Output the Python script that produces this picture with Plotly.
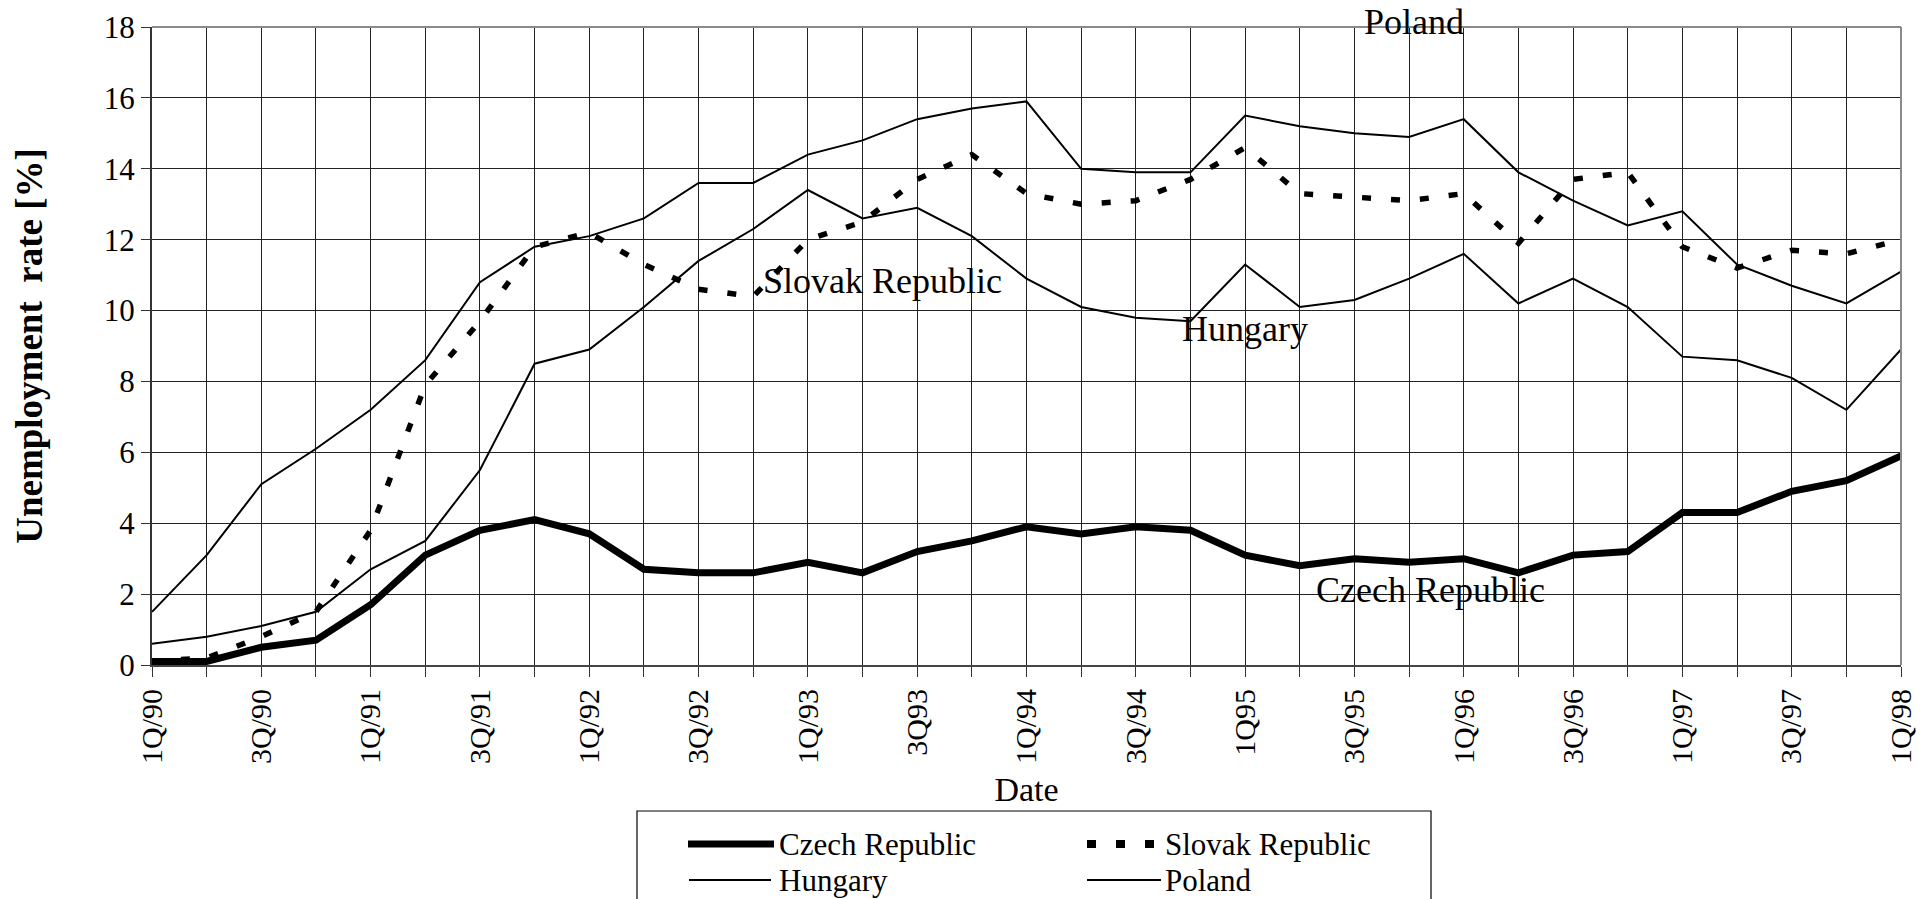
import plotly.graph_objects as go

# Quarterly unemployment rates, 1Q/90 – 1Q/98
quarters = [
    "1Q/90", "2Q/90", "3Q/90", "4Q/90",
    "1Q/91", "2Q/91", "3Q/91", "4Q/91",
    "1Q/92", "2Q/92", "3Q/92", "4Q/92",
    "1Q/93", "2Q/93", "3Q93", "4Q/93",
    "1Q/94", "2Q/94", "3Q/94", "4Q/94",
    "1Q95", "2Q/95", "3Q/95", "4Q/95",
    "1Q/96", "2Q/96", "3Q/96", "4Q/96",
    "1Q/97", "2Q/97", "3Q/97", "4Q/97",
    "1Q/98",
]

# Only every second quarter carries a visible label
labelled_quarters = [
    "1Q/90", "3Q/90", "1Q/91", "3Q/91", "1Q/92", "3Q/92", "1Q/93", "3Q93",
    "1Q/94", "3Q/94", "1Q95", "3Q/95", "1Q/96", "3Q/96", "1Q/97", "3Q/97", "1Q/98",
]

czech = [0.1, 0.1, 0.5, 0.7, 1.7, 3.1, 3.8, 4.1, 3.7, 2.7, 2.6, 2.6, 2.9, 2.6, 3.2, 3.5,
         3.9, 3.7, 3.9, 3.8, 3.1, 2.8, 3.0, 2.9, 3.0, 2.6, 3.1, 3.2, 4.3, 4.3, 4.9, 5.2, 5.9]
slovak = [0.1, 0.2, 0.8, 1.5, 3.8, 7.9, 9.7, 11.8, 12.2, 11.3, 10.6, 10.4, 12.0, 12.5, 13.7, 14.4,
          13.3, 13.0, 13.1, 13.7, 14.6, 13.3, 13.2, 13.1, 13.3, 11.9, 13.7, 13.9, 11.8, 11.2, 11.7, 11.6, 12.0]
hungary = [0.6, 0.8, 1.1, 1.5, 2.7, 3.5, 5.5, 8.5, 8.9, 10.1, 11.4, 12.3, 13.4, 12.6, 12.9, 12.1,
           10.9, 10.1, 9.8, 9.7, 11.3, 10.1, 10.3, 10.9, 11.6, 10.2, 10.9, 10.1, 8.7, 8.6, 8.1, 7.2, 8.9]
poland = [1.5, 3.1, 5.1, 6.1, 7.2, 8.6, 10.8, 11.8, 12.1, 12.6, 13.6, 13.6, 14.4, 14.8, 15.4, 15.7,
          15.9, 14.0, 13.9, 13.9, 15.5, 15.2, 15.0, 14.9, 15.4, 13.9, 13.1, 12.4, 12.8, 11.3, 10.7, 10.2, 11.1]

SERIF = "Liberation Serif"
W, H = 1932, 899
ML, MR, MT, MB = 152, 31, 27, 234
PW, PH = W - ML - MR, H - MT - MB


def px_x(x):
    return (x - ML) / PW


def px_y(y):
    return (H - MB - y) / PH


fig = go.Figure()

styles = [
    ("Czech Republic", czech, dict(color="black", width=7)),
    ("Slovak Republic", slovak, dict(color="black", width=5.5, dash="9px,20px")),
    ("Hungary", hungary, dict(color="black", width=2)),
    ("Poland", poland, dict(color="black", width=2)),
]
for name, vals, line in styles:
    fig.add_trace(go.Scatter(x=quarters, y=vals, mode="lines", name=name,
                             line=line, showlegend=False, cliponaxis=False))

# Series labels placed beside the curves
for text, xi, yv in [("Slovak Republic", 13.36, 10.84),
                     ("Hungary", 20.0, 9.47), ("Czech Republic", 23.39, 2.12)]:
    fig.add_annotation(x=xi, y=yv, xref="x", yref="y", text=text, showarrow=False,
                       xanchor="center", yanchor="middle",
                       font=dict(family=SERIF, size=36, color="black"))
# "Poland" sits just above the top edge of the plot
fig.add_annotation(x=px_x(1414), y=px_y(22), xref="paper", yref="paper", text="Poland",
                   showarrow=False, xanchor="center", yanchor="middle",
                   font=dict(family=SERIF, size=36, color="black"))

# Frame: grey top and right edges
fig.add_shape(type="line", xref="paper", yref="paper", x0=0, x1=1, y0=1, y1=1,
              line=dict(color="#8a8a8a", width=2))
fig.add_shape(type="line", xref="paper", yref="paper", x0=1, x1=1, y0=0, y1=1,
              line=dict(color="#8a8a8a", width=2))

# Boxed legend below the axis title
fig.add_shape(type="rect", xref="paper", yref="paper",
              x0=px_x(637), x1=px_x(1431), y0=px_y(811), y1=px_y(960),
              line=dict(color="black", width=1.2), fillcolor="white")
legend_items = [
    ("Czech Republic", 688, 774, 777, 844, dict(color="black", width=7)),
    ("Slovak Republic", 1087, 1156, 1163, 844, dict(color="black", width=8, dash="9px,20px")),
    ("Hungary", 689, 771, 777, 880, dict(color="black", width=2)),
    ("Poland", 1087, 1161, 1163, 880, dict(color="black", width=2)),
]
for name, sx0, sx1, tx, ty, line in legend_items:
    fig.add_shape(type="line", xref="paper", yref="paper",
                  x0=px_x(sx0), x1=px_x(sx1), y0=px_y(ty), y1=px_y(ty), line=line)
    fig.add_annotation(x=px_x(tx), y=px_y(ty), xref="paper", yref="paper", text=name,
                       showarrow=False, xanchor="left", yanchor="middle",
                       font=dict(family=SERIF, size=31, color="black"))

fig.update_layout(
    width=W, height=H,
    margin=dict(l=ML, r=MR, t=MT, b=MB, autoexpand=False),
    paper_bgcolor="white", plot_bgcolor="white",
    font=dict(family=SERIF, color="black"),
    xaxis=dict(
        type="category", range=[0, 32],
        tickmode="array", tickvals=quarters,
        ticktext=[q if q in labelled_quarters else "" for q in quarters],
        tickangle=-90, tickfont=dict(size=30, family=SERIF, color="black"),
        ticks="outside", ticklen=10, tickcolor="#333", tickwidth=1,
        showgrid=True, gridcolor="#222", gridwidth=1,
        showline=True, linecolor="#444", linewidth=2,
        title=dict(text="Date", font=dict(size=34, family=SERIF, color="black"), standoff=14),
        zeroline=False,
    ),
    yaxis=dict(
        range=[0, 18], tickmode="linear", tick0=0, dtick=2,
        tickfont=dict(size=31, family=SERIF, color="black"),
        ticks="outside", ticklen=9, tickcolor="#333", tickwidth=1,
        showgrid=True, gridcolor="#222", gridwidth=1,
        showline=True, linecolor="#333", linewidth=2,
        title=dict(text="<b>Unemployment  rate [%]</b>",
                   font=dict(size=37, family=SERIF, color="black"), standoff=50),
        zeroline=False,
    ),
)

fig.write_html("out.html")
